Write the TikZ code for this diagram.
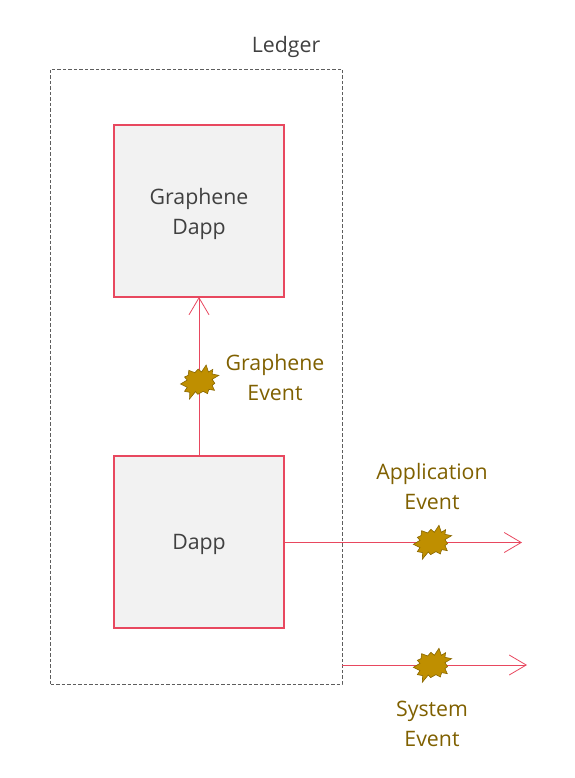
\documentclass[tikz,border=0pt]{standalone}
\usepackage{fontspec}
\setmainfont{Open Sans}
\usepackage{tikz}
\usetikzlibrary{arrows.meta,positioning}
\definecolor{boxred}{HTML}{E8485F}
\definecolor{burstgold}{HTML}{BF8F00}
\definecolor{eventtext}{HTML}{7F6000}
\definecolor{darktext}{HTML}{404040}

\tikzset{
eventburst/.pic={
\draw [draw=eventtext!85!burstgold, fill=burstgold, line width=0.6pt, x=0.333pt, y=-0.333pt]
(20,-51) -- (27,-30) -- (40,-38) -- (38,-24) -- (58,-20) -- (38,-8) -- (46,4) -- (38,10)
-- (45,25) -- (28,22) -- (24,35) -- (11,28) -- (-5,37) -- (-12,29) -- (-30,51) -- (-29,31)
-- (-45,28) -- (-37,16) -- (-57,6) -- (-37,-6) -- (-45,-15) -- (-34,-20) -- (-32,-35)
-- (-14,-28) -- (-4,-39) -- (6,-30) -- cycle;
}}

\begin{document}
\begin{tikzpicture}[x=1pt,y=-1pt,font=\fontsize{21.3}{30}\selectfont]
\tikzstyle{ledgerbox} = [rectangle, draw=darktext!85, dash pattern=on 3.5pt off 2pt, line width=0.8pt,
minimum width=291.5pt, minimum height=615pt, inner sep=0pt, outer sep=0pt]
\tikzstyle{block} = [rectangle, draw=boxred, line width=2.2pt, fill=black!5,
minimum width=170pt, minimum height=172pt, outer sep=0pt]
\tikzstyle{blocktext} = [text=darktext, align=center, inner sep=0pt]
\tikzstyle{eventlabel} = [text=eventtext, align=center, inner sep=0pt]
\tikzstyle{line} = [draw=boxred, line width=1pt, -{Straight Barb[length=17pt,width=20pt,line width=0.8pt]}];
\useasboundingbox (0,0) rectangle (574,778);

\node [ledgerbox] (ledger) at (196.25,376.5) {};
\node [text=darktext, inner sep=0pt] (ledgerlabel) at (286,47) {Ledger};

\node [block, label={[blocktext, yshift=-2.5pt]center:Graphene\\Dapp}] (graphene) at (199,211) {};
\node [block, label={[blocktext, yshift=-2.5pt]center:Dapp}] (dapp) at (199,542) {};

% free ends on the right
\coordinate (append) at (522,542.5);
\coordinate (sysend) at (527,665);

\path [line] (dapp) -- (graphene);
\path [line] (dapp.east |- append) -- (append);
\path [line] (ledger.east |- sysend) -- (sysend);

% events on top of the lines
\pic (grapheneburst) at (199.5,382) {eventburst};
\pic (appburst) at (432.3,542.3) {eventburst};
\pic (sysburst) at (432.3,665.3) {eventburst};

\node [eventlabel] (graphenelabel) at (275,378) {Graphene\\Event};
\node [eventlabel] (applabel) at (432,487) {Application\\Event};
\node [eventlabel] (syslabel) at (432,724) {System\\Event};
\end{tikzpicture}
\end{document}
